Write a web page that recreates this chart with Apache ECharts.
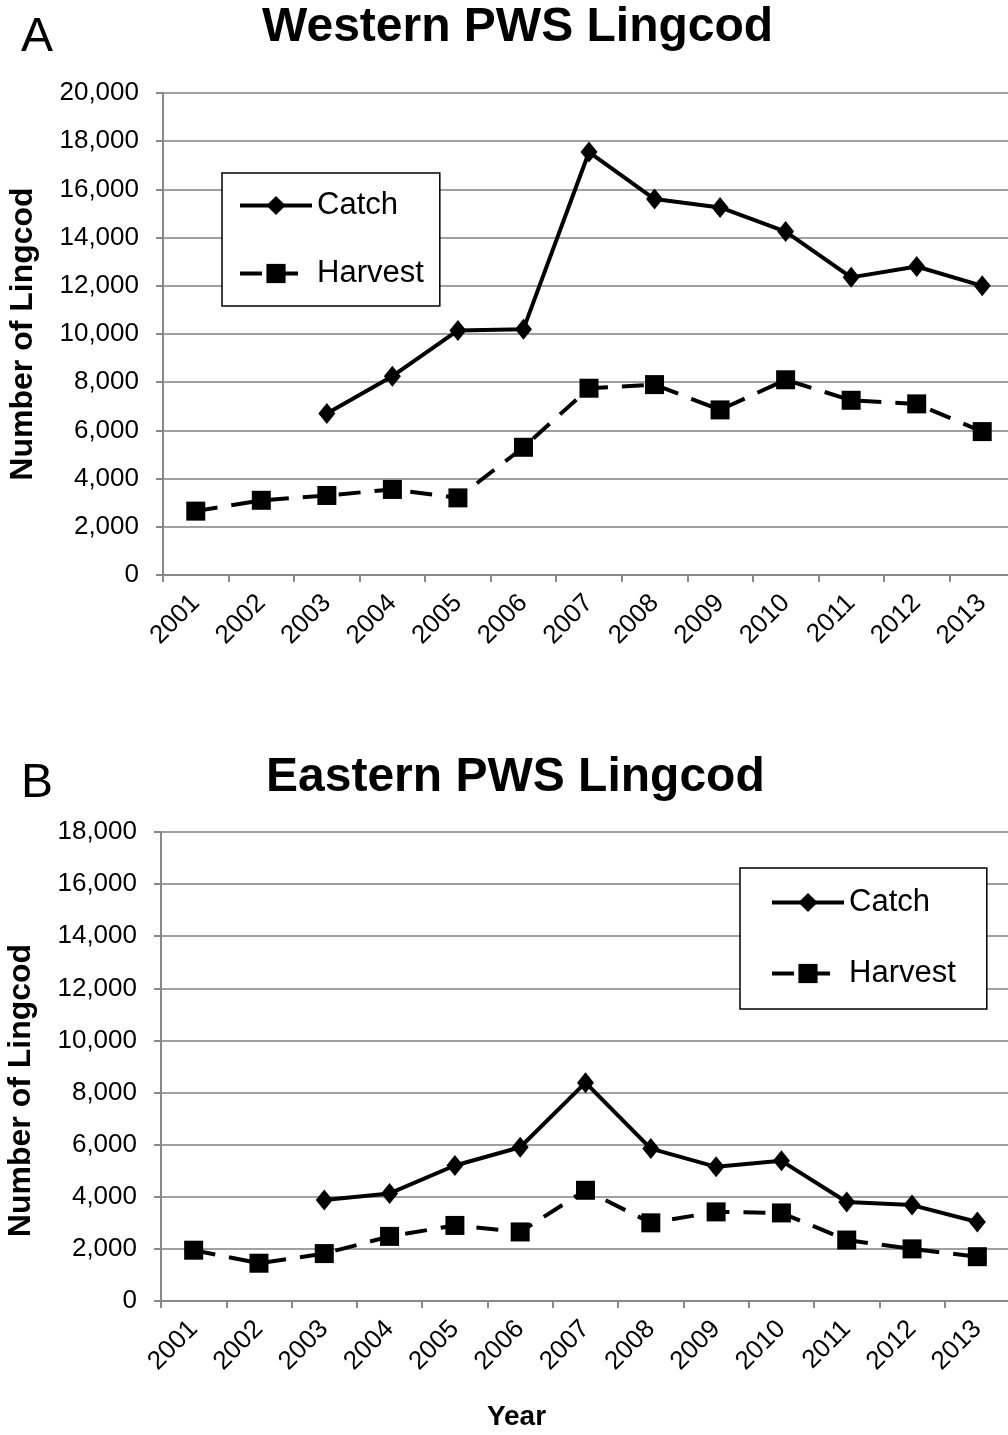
<!DOCTYPE html>
<html>
<head>
<meta charset="utf-8">
<title>PWS Lingcod</title>
<script src="https://cdn.jsdelivr.net/npm/echarts@6/dist/echarts.min.js"></script>
<style>
  html, body { margin: 0; padding: 0; background: #fff; }
  #chart { width: 1008px; height: 1435px; }
</style>
</head>
<body>
<div id="chart"></div>
<script>
// values
var years = ['2001', '2002', '2003', '2004', '2005', '2006', '2007', '2008', '2009', '2010', '2011', '2012', '2013'];

var westCatch = [null, null, 6700, 8250, 10150, 10200, 17550, 15600, 15250, 14250, 12350, 12800, 12000];
var westHarvest = [2650, 3100, 3300, 3550, 3200, 5300, 7750, 7900, 6850, 8100, 7250, 7100, 5950];

var eastCatch = [null, null, 3880, 4130, 5200, 5900, 8380, 5850, 5150, 5380, 3800, 3680, 3030];
var eastHarvest = [1950, 1450, 1820, 2480, 2900, 2650, 4250, 3000, 3420, 3380, 2340, 2000, 1700];

var titles = ['Western PWS Lingcod', 'Eastern PWS Lingcod'];
var panels = ['A', 'B'];

var FONT = '"Liberation Sans", Arial, sans-serif';
var GRID_GRAY = '#a0a0a0';
var AXIS_GRAY = '#888888';

function fmt(v) {
  return v.toLocaleString('en-US');
}

function xAxis(gi, withName) {
  var ax = {
    type: 'category',
    gridIndex: gi,
    data: years,
    boundaryGap: true,
    axisLine: { show: true, lineStyle: { color: AXIS_GRAY, width: 2 } },
    axisTick: { show: true, interval: 0, length: 7, lineStyle: { color: AXIS_GRAY, width: 2 } },
    axisLabel: {
      interval: 0, rotate: 45, margin: 24,
      fontSize: 26, color: '#000', fontFamily: FONT
    },
    splitLine: { show: false }
  };
  if (withName) {
    ax.name = 'Year';
    ax.nameLocation = 'middle';
    ax.nameGap = 102;
    ax.nameMoveOverlap = false;
    ax.nameTextStyle = {
      fontSize: 28, fontWeight: 'bold', color: '#000', fontFamily: FONT,
      padding: [0, 138, 0, 0]
    };
  }
  return ax;
}

function yAxis(gi, max, namePad) {
  return {
    type: 'value',
    gridIndex: gi,
    min: 0,
    max: max,
    interval: 2000,
    name: 'Number of Lingcod',
    nameLocation: 'middle',
    nameGap: 124,
    nameMoveOverlap: false,
    nameTextStyle: {
      fontSize: 32, fontWeight: 'bold', color: '#000', fontFamily: FONT,
      padding: namePad
    },
    axisLine: { show: true, lineStyle: { color: AXIS_GRAY, width: 2 } },
    axisTick: { show: true, length: 7, lineStyle: { color: AXIS_GRAY, width: 2 } },
    axisLabel: {
      margin: 24, fontSize: 26, color: '#000', fontFamily: FONT,
      formatter: fmt
    },
    splitLine: { show: true, lineStyle: { color: GRID_GRAY, width: 2 } }
  };
}

function legend(left, top, pad, gap) {
  return {
    data: ['Catch', 'Harvest'],
    orient: 'vertical',
    left: left,
    top: top,
    padding: pad,
    itemGap: gap,
    itemWidth: 72,
    itemHeight: 24,
    borderColor: '#000',
    borderWidth: 1.5,
    backgroundColor: '#fff',
    selectedMode: false,
    lineStyle: { width: 4 },
    textStyle: { fontSize: 31, lineHeight: 30, color: '#000', fontFamily: FONT }
  };
}

function catchSeries(i, data) {
  return {
    name: 'Catch', type: 'line',
    xAxisIndex: i, yAxisIndex: i,
    data: data,
    symbol: 'diamond', symbolSize: [17, 21],
    lineStyle: { color: '#000', width: 4 },
    itemStyle: { color: '#000' },
    z: 3
  };
}

function harvestSeries(i, data) {
  return {
    name: 'Harvest', type: 'line',
    xAxisIndex: i, yAxisIndex: i,
    data: data,
    symbol: 'rect', symbolSize: 19,
    lineStyle: { color: '#000', width: 4, type: [22, 14] },
    itemStyle: { color: '#000' },
    z: 3
  };
}

var chart = echarts.init(document.getElementById('chart'), null, { renderer: 'canvas' });

var option = {
  animation: false,
  backgroundColor: '#fff',
  title: [
    { text: titles[0], left: 262, top: 4, padding: 0,
      textStyle: { fontSize: 48, fontWeight: 'bold', color: '#000', fontFamily: FONT } },
    { text: titles[1], left: 266, top: 754, padding: 0,
      textStyle: { fontSize: 48, fontWeight: 'bold', color: '#000', fontFamily: FONT } },
    { text: panels[0], left: 21, top: 14, padding: 0,
      textStyle: { fontSize: 48, fontWeight: 'normal', color: '#000', fontFamily: FONT } },
    { text: panels[1], left: 21, top: 760, padding: 0,
      textStyle: { fontSize: 48, fontWeight: 'normal', color: '#000', fontFamily: FONT } }
  ],
  legend: [
    legend(222, 173, [17, 16, 17, 16], 37),
    legend(740, 868, [19, 31, 20, 30], 40)
  ],
  grid: [
    { left: 163, top: 93, width: 852, height: 482, outerBoundsMode: 'none', containLabel: false },
    { left: 161, top: 832, width: 849, height: 469, outerBoundsMode: 'none', containLabel: false }
  ],
  xAxis: [xAxis(0, false), xAxis(1, true)],
  yAxis: [yAxis(0, 20000, 0), yAxis(1, 18000, [0, 48, 0, 0])],
  series: [
    catchSeries(0, westCatch),
    harvestSeries(0, westHarvest),
    catchSeries(1, eastCatch),
    harvestSeries(1, eastHarvest)
  ]
};

chart.setOption(option);
</script>
</body>
</html>
